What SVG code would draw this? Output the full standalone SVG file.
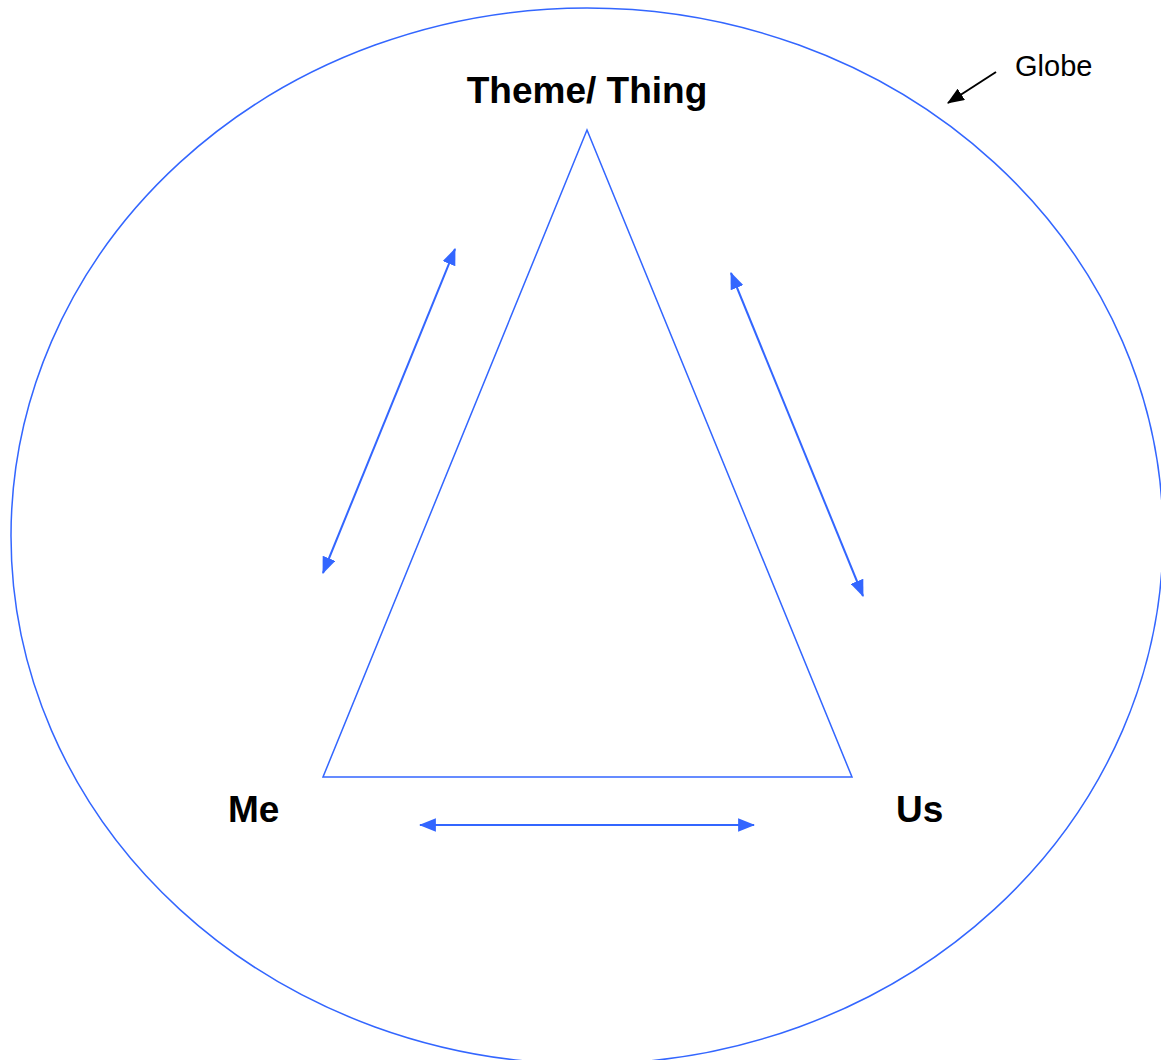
<svg xmlns="http://www.w3.org/2000/svg" width="1161" height="1060" viewBox="0 0 1161 1060">
<defs>
<style>
.blue{fill:none;stroke:#3366FF;}
.lbl{font-family:"Liberation Sans",Arial,sans-serif;font-weight:bold;font-size:37px;fill:#000;}
.small{font-family:"Liberation Sans",Arial,sans-serif;font-size:29px;fill:#000;}
</style>
<marker id="ab" viewBox="0 0 15 12" refX="14" refY="6" markerWidth="8.5" markerHeight="6.8" markerUnits="strokeWidth" orient="auto-start-reverse">
<path d="M0,0 L15,6 L0,12 z" fill="#3366FF"/>
</marker>
<marker id="ak" viewBox="0 0 15 12" refX="14" refY="6" markerWidth="8.5" markerHeight="6.8" markerUnits="strokeWidth" orient="auto">
<path d="M0,0 L15,6 L0,12 z" fill="#000"/>
</marker>
</defs>
<rect width="1161" height="1060" fill="#fff"/>
<g id="globe">
<ellipse class="blue" cx="587" cy="536" rx="576" ry="528" stroke-width="1.5"/>
</g>
<g id="triangle">
<polygon class="blue" points="587,130 323,777 852,777" stroke-width="1.5"/>
</g>
<g id="theme"><text class="lbl" x="587" y="103" text-anchor="middle">Theme/ Thing</text></g>
<g id="me"><text class="lbl" x="228" y="822">Me</text></g>
<g id="us"><text class="lbl" x="896" y="822">Us</text></g>
<g id="globe-label"><text class="small" x="1015" y="76">Globe</text></g>
<g id="connectors">
<line class="blue" x1="455" y1="249" x2="323" y2="573" stroke-width="2" marker-start="url(#ab)" marker-end="url(#ab)"/>
<line class="blue" x1="731" y1="273" x2="863" y2="596" stroke-width="2" marker-start="url(#ab)" marker-end="url(#ab)"/>
<line class="blue" x1="420" y1="825" x2="754" y2="825" stroke-width="2" marker-start="url(#ab)" marker-end="url(#ab)"/>
<line x1="996" y1="72" x2="948" y2="103" stroke="#000" stroke-width="2" marker-end="url(#ak)"/>
</g>
</svg>
